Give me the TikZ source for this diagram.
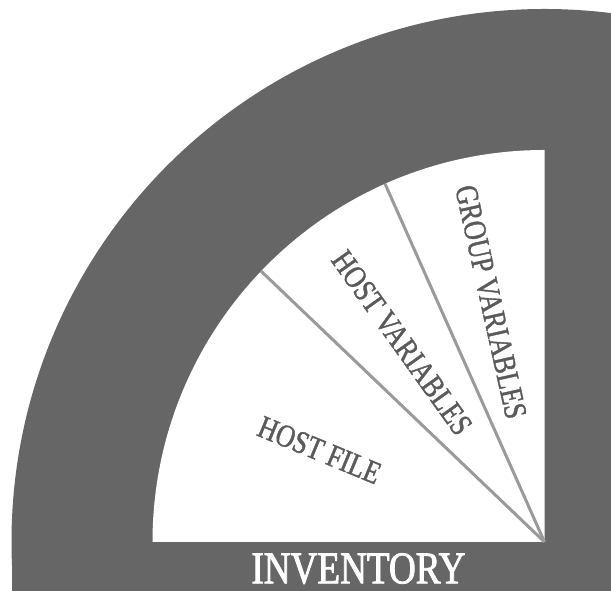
\documentclass[tikz,border=0pt]{standalone}
\usepackage{fontspec}
\setmainfont{Liberation Serif}[FakeStretch=0.82]
\newfontfamily\labelfont{Liberation Serif}[FakeStretch=0.815,FakeBold=1.2]
\newfontfamily\titlefont{Liberation Serif}[FakeStretch=0.82,FakeBold=1.8]
\usetikzlibrary{calc}
\definecolor{darkfill}{HTML}{666666}
\definecolor{divider}{HTML}{9A9A9A}
\definecolor{labeltext}{HTML}{5A5A5A}
\begin{document}
\begin{tikzpicture}[x=1pt,y=1pt,
  sector label/.style={text=labeltext, font=\labelfont\fontsize{32}{32}\selectfont, inner sep=0pt},
  title label/.style={text=white, font=\titlefont\fontsize{45.3}{46}\selectfont, inner sep=0pt, text depth=0pt},
  divider line/.style={draw=divider, line width=3pt}]
\useasboundingbox (0,0) rectangle (611,591);
\coordinate (C) at (544.5,49);
\begin{scope}
  \clip (0,0) rectangle (611,591);
  \fill[darkfill] (C) circle[radius=533];
  \fill[darkfill] (11.5,0) rectangle (611,49);
\end{scope}
\fill[white] (C) -- ++(180:392) arc[start angle=180,end angle=90,radius=392] -- cycle;
\coordinate (A1) at ($(C)+(136.3:392)$);
\coordinate (A2) at ($(C)+(114:392)$);
\draw[divider line] (C) -- (A1);
\draw[divider line] (C) -- (A2);
\node[sector label, rotate=-22.5] (hostfile) at ($(C)+(157.8:243)$) {HOST FILE};
\node[sector label, rotate=-54.5] (hostvars) at ($(C)+(125.6:245)$) {HOST VARIABLES};
\node[sector label, rotate=-77.5] (groupvars) at ($(C)+(102.6:246)$) {GROUP VARIABLES};
\node[title label, anchor=base] (inventory) at (358.4,7.7) {INVENTORY};
\end{tikzpicture}
\end{document}
